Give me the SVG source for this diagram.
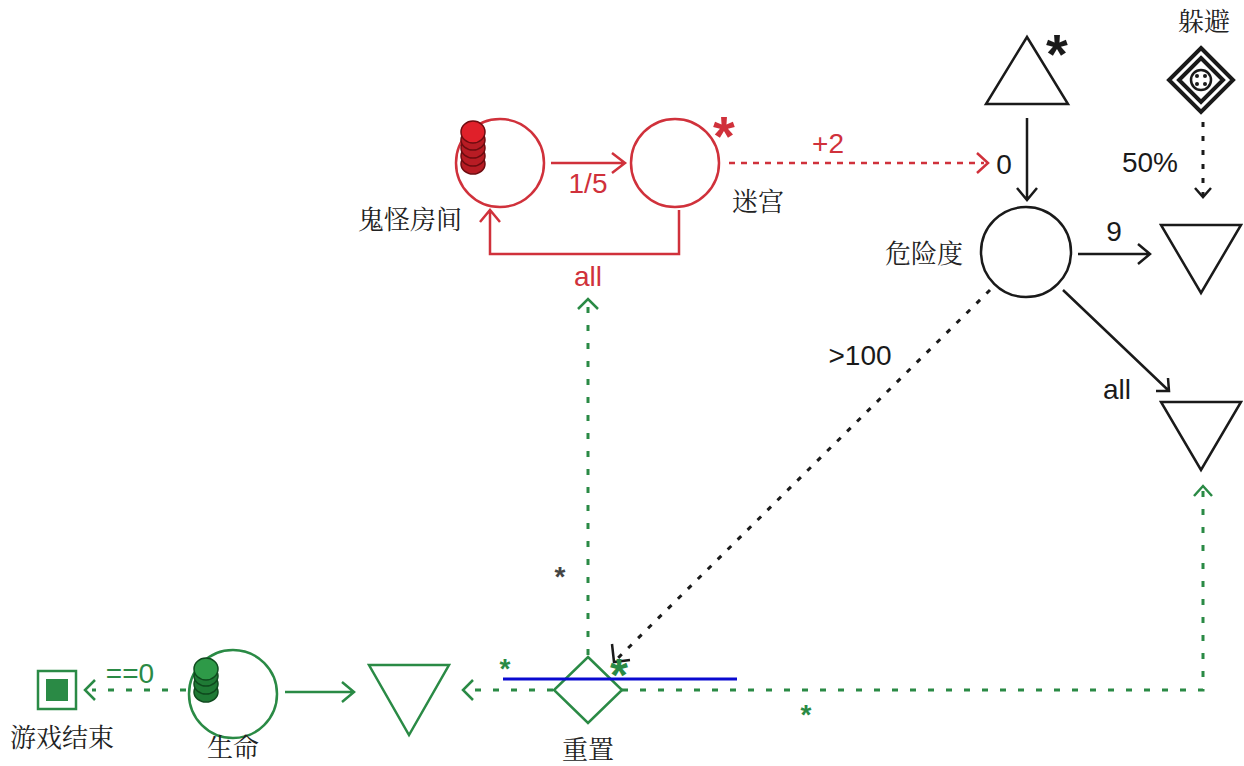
<svg xmlns="http://www.w3.org/2000/svg" width="1244" height="766" viewBox="0 0 1244 766">
<style>
.r{stroke:#d0313b;fill:none;stroke-width:2.5}
.g{stroke:#2a8a45;fill:none;stroke-width:2.5}
.k{stroke:#1a1a1a;fill:none;stroke-width:2.5}
.dr{stroke:#d0313b;fill:none;stroke-width:2.5;stroke-dasharray:6 6}
.dg{stroke:#2a8a45;fill:none;stroke-width:3;stroke-dasharray:6 12}
.dk{stroke:#1a1a1a;fill:none;stroke-width:3;stroke-dasharray:5 9}
.t{font-family:"Liberation Sans",Arial,sans-serif;font-size:28px}
.c{font-family:"Noto Serif CJK SC","Noto Sans CJK SC",serif;font-size:26px;fill:#222}
.s{font-family:"Liberation Sans",Arial,sans-serif;font-weight:bold}
</style>
<rect width="1244" height="766" fill="#fff"/>
<g id="connectors">
<path class="r" d="M551 163H624M612 153L625 163L612 173"/>
<path class="r" d="M679 210V254H490V212M480 222L490 210L500 222"/>
<path class="dr" d="M729 163H984"/>
<path class="r" d="M977 153L988 163L977 173"/>
<path class="k" d="M1027 118V198M1017 188L1027 200L1037 188"/>
<path class="k" d="M1078 254H1148M1138 244L1150 254L1138 264"/>
<path class="dk" d="M1203 122V196"/>
<path class="k" d="M1195 188L1203 197L1211 188"/>
<path class="k" d="M1063 290L1168 390M1156 391L1169 391L1168 378"/>
<path class="dk" d="M990 290L616 660"/>
<path class="k" d="M612 644L614 662L630 660" stroke-width="2.5"/>
<path class="dg" d="M622 690H1203V490"/>
<path class="g" d="M1194 496L1203 486L1212 496"/>
<path class="dg" d="M588 655V305"/>
<path class="g" d="M578 309L588 299L598 309"/>
<path class="dg" d="M553 690H468"/>
<path class="g" d="M473 680L463 690L473 700"/>
<path class="g" d="M285 692H353M342 682L354 692L342 702"/>
<path class="dg" d="M186 690H92"/>
<path class="g" d="M95 680L85 690L95 700"/>
<text class="t" x="588" y="193" text-anchor="middle" fill="#d0313b">1/5</text>
<text class="t" x="588" y="286" text-anchor="middle" fill="#d0313b">all</text>
<text class="t" x="828" y="153" text-anchor="middle" fill="#d0313b">+2</text>
<text class="t" x="1004" y="174" text-anchor="middle" fill="#1a1a1a">0</text>
<text class="t" x="1114" y="241" text-anchor="middle" fill="#1a1a1a">9</text>
<text class="t" x="1150" y="172" text-anchor="middle" fill="#1a1a1a">50%</text>
<text class="t" x="1117" y="399" text-anchor="middle" fill="#1a1a1a">all</text>
<text class="t" x="860" y="365" text-anchor="middle" fill="#1a1a1a">&gt;100</text>
<text class="t" x="130" y="683" text-anchor="middle" fill="#2a8a45">==0</text>
<text class="s" x="560" y="586" text-anchor="middle" fill="#444" font-size="28">*</text>
<text class="s" x="505" y="678" text-anchor="middle" fill="#2a8a45" font-size="28">*</text>
<text class="s" x="806" y="724" text-anchor="middle" fill="#2a8a45" font-size="28">*</text>
<text class="s" x="619" y="691" text-anchor="middle" fill="#2a8a45" font-size="46">*</text>
</g>
<g id="ghost-room">
<circle class="r" cx="500" cy="163" r="44"/>
<g fill="#b81c24" stroke="#6e0c10" stroke-width="1.5">
<ellipse cx="473" cy="164" rx="12" ry="10"/>
<ellipse cx="473" cy="156" rx="12" ry="10"/>
<ellipse cx="473" cy="148" rx="12" ry="10"/>
<ellipse cx="473" cy="140" rx="12" ry="10"/>
<ellipse cx="473" cy="132" rx="12" ry="11" fill="#e0202a"/>
</g>
<text class="c" x="410" y="229" text-anchor="middle">鬼怪房间</text>
</g>
<g id="maze">
<circle class="r" cx="675" cy="163" r="44"/>
<text class="s" x="724" y="155" text-anchor="middle" fill="#d0313b" font-size="56">*</text>
<text class="c" x="758" y="211" text-anchor="middle">迷宫</text>
</g>
<g id="source">
<path class="k" d="M1027 37L1068 104H986Z"/>
<text class="s" x="1057" y="73" text-anchor="middle" fill="#1a1a1a" font-size="56">*</text>
</g>
<g id="dodge">
<path d="M1201 48L1233 80L1201 112L1169 80Z" fill="none" stroke="#1a1a1a" stroke-width="4"/>
<path d="M1201 58L1223 80L1201 102L1179 80Z" fill="none" stroke="#1a1a1a" stroke-width="4"/>
<circle cx="1201" cy="80" r="10" fill="none" stroke="#1a1a1a" stroke-width="2.5"/>
<g fill="#1a1a1a"><circle cx="1197" cy="76" r="2"/><circle cx="1205" cy="76" r="2"/><circle cx="1197" cy="84" r="2"/><circle cx="1205" cy="84" r="2"/></g>
<text class="c" x="1204" y="31" text-anchor="middle">躲避</text>
</g>
<g id="danger">
<circle class="k" cx="1026" cy="252" r="45"/>
<text class="c" x="924" y="263" text-anchor="middle">危险度</text>
</g>
<g id="drain1"><path class="k" d="M1161 225H1241L1201 293Z"/></g>
<g id="drain2"><path class="k" d="M1161 402H1241L1201 470Z"/></g>
<g id="reset">
<path class="g" d="M588 657L622 690L588 723L554 690Z"/>
<text class="c" x="588" y="759" text-anchor="middle">重置</text>
</g>
<g id="drain3"><path class="g" d="M369 665H449L409 735Z"/></g>
<g id="life">
<circle class="g" cx="233" cy="694" r="44"/>
<g fill="#1f7a35" stroke="#0f4a1e" stroke-width="1.5">
<ellipse cx="206" cy="692" rx="12" ry="10"/>
<ellipse cx="206" cy="684" rx="12" ry="10"/>
<ellipse cx="206" cy="676" rx="12" ry="10"/>
<ellipse cx="206" cy="669" rx="12" ry="11" fill="#2e9a48"/>
</g>
<text class="c" x="233" y="757" text-anchor="middle">生命</text>
</g>
<g id="gameover">
<rect x="38" y="671" width="38" height="38" fill="none" stroke="#2a8a45" stroke-width="2.5"/>
<rect x="46" y="679" width="22" height="22" fill="#2a8a45"/>
<text class="c" x="62" y="747" text-anchor="middle">游戏结束</text>
</g>
<line x1="503" y1="679" x2="737" y2="679" stroke="#0a0ad0" stroke-width="3"/>
</svg>
